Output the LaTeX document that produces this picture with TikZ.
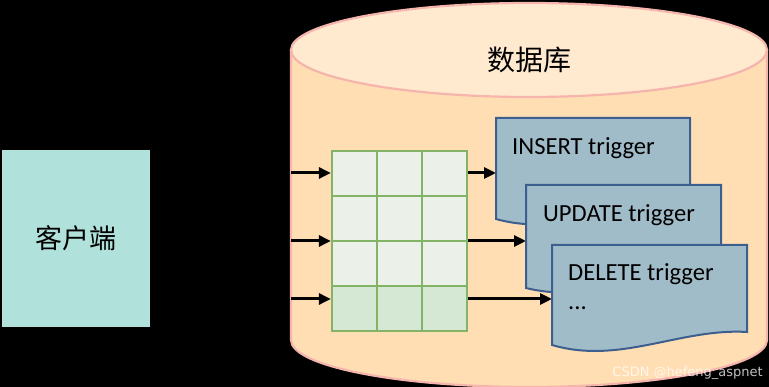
\documentclass[tikz,border=0pt]{standalone}
\usepackage{fontspec}
\setmainfont{Carlito}
\newfontfamily\cjk{Noto Sans CJK SC}
\newfontfamily\wmfont{DejaVu Sans}
\usetikzlibrary{arrows.meta,calc}
\definecolor{clientfill}{HTML}{B1E1DB}
\definecolor{cylbody}{HTML}{FFDEB3}
\definecolor{cyltop}{HTML}{FFEAD0}
\definecolor{cylline}{HTML}{F5B5AD}
\definecolor{cellfill}{HTML}{EBF1E9}
\definecolor{cellfilldark}{HTML}{D5E8D4}
\definecolor{cellline}{HTML}{82B366}
\definecolor{docfill}{HTML}{A0BCC8}
\definecolor{docline}{HTML}{3D5F8F}
\tikzset{
  cylstyle/.style={draw=cylline, line width=2.2pt},
  docstyle/.style={draw=docline, fill=docfill, line width=2pt, line join=miter},
  trig/.style={font=\fontsize{24.6}{28}\selectfont, anchor=base west, inner sep=0pt, text=black},
  arr/.style={draw=black, line width=3pt, -{Triangle[length=12pt,width=11pt]}},
  gridline/.style={draw=cellline, line width=2.3pt},
}
\begin{document}
\begin{tikzpicture}[x=1pt,y=1pt]
  \useasboundingbox[fill=black] (0,0) rectangle (769,387);
  % cylinder
  \path[cylstyle, fill=cylbody] (291,337) -- (291,47) arc[start angle=180, end angle=360, x radius=238, y radius=47] -- (767,337) -- cycle;
  \path[cylstyle, fill=cyltop] (529,337) ellipse[x radius=238, y radius=47];
  \node[font=\cjk\fontsize{28}{32}\selectfont, inner sep=0pt] (db) at (529,327.5) {数据库};
  % client
  \node[fill=clientfill, minimum width=148pt, minimum height=177pt, inner sep=0pt,
        font=\cjk\fontsize{27}{31}\selectfont] (client) at (76,148.5) {客户端};
  % table
  \fill[cellfill] (332,236) rectangle (467,101);
  \fill[cellfilldark] (332,101) rectangle (467,56);
  \node[gridline, minimum width=135pt, minimum height=180pt, inner sep=0pt] (tbl) at (399.5,146) {};
  \foreach \yy in {191,146,101} \draw[gridline] (332,\yy) -- (467,\yy);
  \foreach \xx in {377,422} \draw[gridline] (\xx,236) -- (\xx,56);
  % left connectors
  \coordinate (a1) at (291,214);
  \coordinate (a2) at (291,146);
  \coordinate (a3) at (291,88);
  \draw[arr] (a1) -- (a1 -| tbl.west);
  \draw[arr] (a2) -- (a2 -| tbl.west);
  \draw[arr] (a3) -- (a3 -| tbl.west);
  % documents
  \begin{scope}[shift={(496,269)}]
    \draw[docstyle] (0,0) -- (194,0) -- (194,-87) .. controls (128,-83) and (68,-120) .. (0,-101) -- cycle;
    \coordinate (insIn) at (0,-55);
    \node[trig] (insT) at (16,-37) {INSERT trigger};
  \end{scope}
  \begin{scope}[shift={(526,202)}]
    \draw[docstyle] (0,0) -- (195,0) -- (195,-87) .. controls (129,-83) and (68,-120) .. (0,-103) -- cycle;
    \coordinate (updIn) at (0,-56);
    \node[trig] (updT) at (17,-37) {UPDATE trigger};
  \end{scope}
  \begin{scope}[shift={(552,142)}]
    \draw[docstyle] (0,0) -- (195,0) -- (195,-87) .. controls (128,-83) and (68,-120) .. (0,-100) -- cycle;
    \coordinate (delIn) at (0,-54);
    \node[trig] (delT) at (16,-36) {DELETE trigger};
    \node[trig] (delDots) at (16,-65) {...};
  \end{scope}
  % right connectors
  \draw[arr] (tbl.east |- insIn) -- (insIn);
  \draw[arr] (tbl.east |- updIn) -- (updIn);
  \draw[arr] (tbl.east |- delIn) -- (delIn);
  % watermark
  \node[font=\wmfont\fontsize{13}{15}\selectfont, text=white, opacity=0.75, anchor=base east, inner sep=0pt] (wm) at (763,10) {CSDN @hefeng\_aspnet};
\end{tikzpicture}
\end{document}
